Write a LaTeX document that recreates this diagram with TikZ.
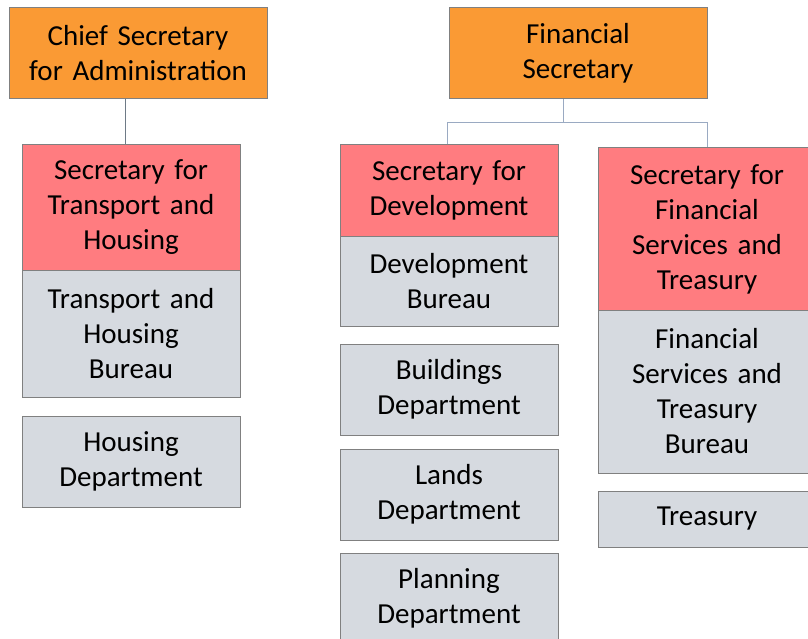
\documentclass[tikz,border=0pt]{standalone}
\usepackage{fontspec}
\setmainfont{Carlito}[WordSpace=0.85]
\definecolor{orgfill}{HTML}{FA9A34}
\definecolor{pinkfill}{HTML}{FF7C80}
\definecolor{grayfill}{HTML}{D6DAE0}
\definecolor{bordergray}{HTML}{808080}
\definecolor{conngray}{HTML}{6E7A86}
\definecolor{connblue}{HTML}{9AAAC2}
\begin{document}
\begin{tikzpicture}[x=1pt,y=-1pt,
  box/.style={draw=bordergray, line width=1pt, minimum width=218pt, inner sep=0pt,
    text width=214pt, align=center, font=\fontsize{29}{35}\selectfont},
  topbox/.style={box, fill=orgfill, minimum width=258pt, text width=254pt, minimum height=91pt},
  secbox/.style={box, fill=pinkfill},
  depbox/.style={box, fill=grayfill},
  conn/.style={line width=1pt}]
\useasboundingbox (0,0) rectangle (808,639);
\clip (0,0) rectangle (808,639);
% left column
\node[topbox] (cs) at (138,53.5) {Chief Secretary\\for Administration};
\node[secbox, minimum height=125pt] (sth) at (131,207.5) {Secretary for\\Transport and\\Housing};
\node[depbox, minimum height=127pt] (thb) at (131,333.5) {Transport and\\Housing\\Bureau};
\node[depbox, minimum height=91pt] (hd) at (131,461.5) {Housing\\Department};
% right top
\node[topbox] (fs) at (578,53.5) {Financial\\Secretary};
% middle column
\node[secbox, minimum height=91pt] (sd) at (449,190.5) {Secretary for\\Development};
\node[depbox, minimum height=90pt] (db) at (449,281) {Development\\Bureau};
\node[depbox, minimum height=91pt] (bd) at (449,389.5) {Buildings\\Department};
\node[depbox, minimum height=91pt] (ld) at (449,494.5) {Lands\\Department};
\node[depbox, minimum height=91pt] (pd) at (449,598.5) {Planning\\Department};
% right column
\node[secbox, minimum height=162pt] (sfst) at (707,229) {Secretary for\\Financial\\Services and\\Treasury};
\node[depbox, minimum height=163pt] (fstb) at (707,391.5) {Financial\\Services and\\Treasury\\Bureau};
\node[depbox, minimum height=56pt] (tr) at (707,519) {Treasury};
% connectors
\coordinate (c1) at (125,0);
\draw[conn, draw=conngray] (cs.south -| c1) -- (sth.north -| c1);
\coordinate (j) at (563,123);
\coordinate (l) at (447,123);
\coordinate (r) at (707,123);
\draw[conn, draw=connblue] (fs.south -| j) -- (j);
\draw[conn, draw=connblue] (l |- sd.north) -- (l) -- (r) -- (r |- sfst.north);
\end{tikzpicture}
\end{document}
